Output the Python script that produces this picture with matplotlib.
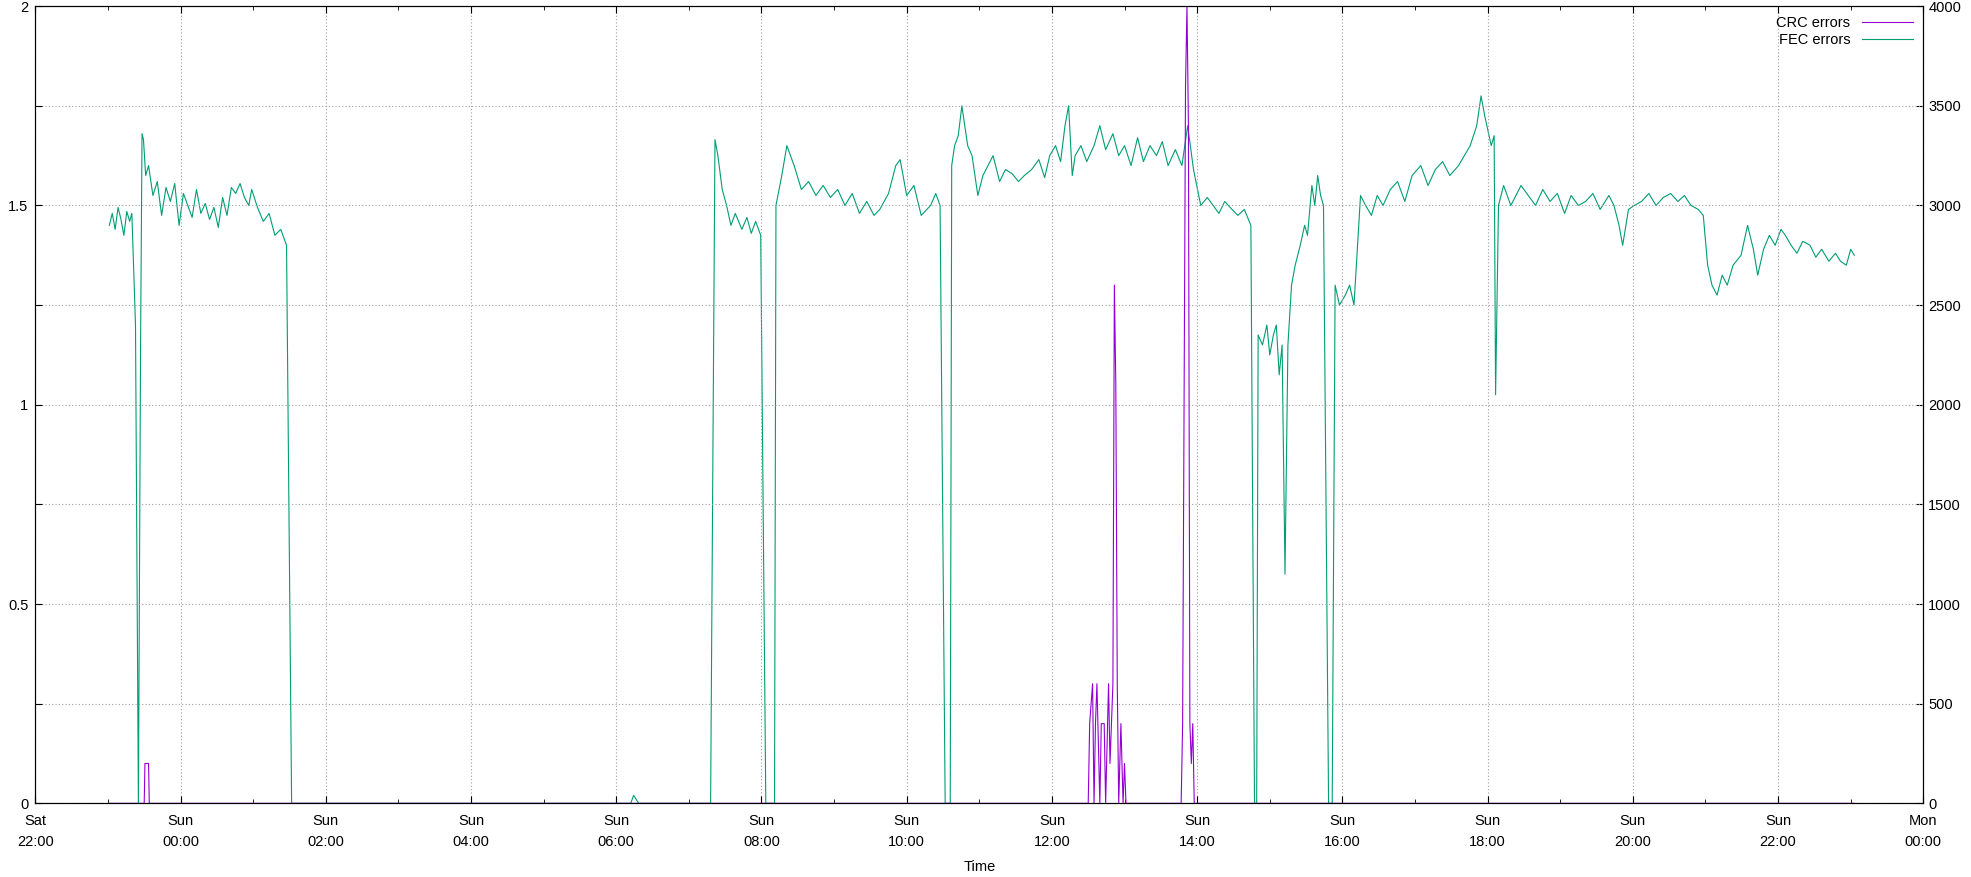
import matplotlib

matplotlib.use("Agg")
import matplotlib.pyplot as plt

# hours since Sat 22:00
fec_hours = [
    1.02, 1.06, 1.10, 1.14, 1.18, 1.22, 1.26, 1.30, 1.33, 1.38, 1.42, 1.45, 1.47, 1.49, 1.52,
    1.56, 1.62, 1.68, 1.74, 1.80, 1.86, 1.92, 1.98, 2.04, 2.10, 2.16, 2.22, 2.28, 2.34, 2.40,
    2.46, 2.52, 2.58, 2.64, 2.70, 2.76, 2.82, 2.88, 2.94, 2.98, 3.06, 3.14, 3.22, 3.30, 3.38,
    3.46, 3.53, 8.00, 8.20, 8.24, 8.31, 9.30, 9.36, 9.40, 9.46, 9.52, 9.58, 9.64, 9.73, 9.80,
    9.86, 9.92, 9.99, 10.06, 10.18, 10.20, 10.28, 10.35, 10.45, 10.55, 10.65, 10.75, 10.85,
    10.95, 11.05, 11.15, 11.25, 11.35, 11.45, 11.55, 11.63, 11.75, 11.85, 11.91, 12.00, 12.10,
    12.20, 12.33, 12.40, 12.46, 12.53, 12.60, 12.62, 12.66, 12.71, 12.76, 12.84, 12.90, 12.98,
    13.05, 13.12, 13.19, 13.28, 13.36, 13.45, 13.54, 13.62, 13.72, 13.82, 13.90, 13.97, 14.05,
    14.12, 14.18, 14.23, 14.28, 14.32, 14.40, 14.48, 14.58, 14.66, 14.74, 14.84, 14.92, 15.00,
    15.09, 15.18, 15.26, 15.35, 15.44, 15.52, 15.60, 15.70, 15.79, 15.87, 15.95, 16.05, 16.14,
    16.22, 16.30, 16.38, 16.48, 16.56, 16.65, 16.74, 16.79, 16.82, 16.84, 16.90, 16.96, 17.00,
    17.05, 17.09, 17.13, 17.17, 17.21, 17.25, 17.30, 17.35, 17.42, 17.48, 17.52, 17.58, 17.62,
    17.66, 17.70, 17.74, 17.81, 17.86, 17.90, 17.96, 18.04, 18.10, 18.16, 18.25, 18.32, 18.40,
    18.48, 18.56, 18.66, 18.76, 18.86, 18.96, 19.08, 19.18, 19.28, 19.38, 19.48, 19.60, 19.68,
    19.76, 19.85, 19.91, 19.96, 20.05, 20.09, 20.11, 20.15, 20.22, 20.32, 20.46, 20.56, 20.66,
    20.76, 20.86, 20.96, 21.06, 21.15, 21.25, 21.35, 21.45, 21.55, 21.67, 21.74, 21.81, 21.86,
    21.94, 22.02, 22.12, 22.22, 22.32, 22.42, 22.52, 22.62, 22.71, 22.80, 22.90, 22.97, 23.03,
    23.09, 23.16, 23.23, 23.30, 23.38, 23.49, 23.58, 23.66, 23.72, 23.80, 23.88, 23.96, 24.04,
    24.10, 24.18, 24.26, 24.34, 24.44, 24.52, 24.60, 24.70, 24.79, 24.86, 24.94, 25.00, 25.05,
]
fec_values = [
    2900, 2960, 2880, 2990, 2930, 2850, 2970, 2920, 2960, 2400, 0, 2300, 3360, 3330, 3150,
    3200, 3050, 3120, 2950, 3090, 3020, 3110, 2900, 3060, 3000, 2940, 3080, 2960, 3010, 2930,
    2990, 2890, 3040, 2950, 3090, 3060, 3110, 3040, 3000, 3080, 2990, 2920, 2960, 2850, 2880,
    2800, 0, 0, 0, 40, 0, 0, 3330, 3250, 3080, 3000, 2900, 2960, 2880, 2940,
    2860, 2920, 2850, 0, 0, 3000, 3150, 3300, 3200, 3080, 3120, 3050, 3100,
    3040, 3080, 3000, 3060, 2960, 3020, 2950, 2980, 3060, 3200, 3230, 3050, 3100,
    2950, 3000, 3060, 3000, 0, 0, 3200, 3300, 3350, 3500, 3300, 3250, 3050,
    3150, 3200, 3250, 3120, 3180, 3160, 3120, 3150, 3180, 3230, 3140, 3250, 3300,
    3220, 3400, 3500, 3150, 3250, 3300, 3220, 3300, 3400, 3280, 3360, 3250, 3300,
    3200, 3340, 3220, 3300, 3250, 3320, 3200, 3280, 3200, 3400, 3180, 3000, 3040,
    3000, 2960, 3020, 2980, 2950, 2980, 2900, 0, 0, 2350, 2300, 2400, 2250,
    2350, 2400, 2150, 2300, 1150, 2300, 2600, 2700, 2800, 2900, 2850, 3100, 3000,
    3150, 3050, 3000, 0, 0, 2600, 2500, 2550, 2600, 2500, 3050, 3000, 2950,
    3050, 3000, 3080, 3120, 3020, 3150, 3200, 3100, 3180, 3220, 3150, 3200, 3250,
    3300, 3400, 3550, 3450, 3300, 3350, 2050, 3000, 3100, 3000, 3100, 3050, 3000,
    3080, 3020, 3060, 2960, 3050, 3000, 3020, 3060, 2980, 3050, 3000, 2900, 2800,
    2980, 3000, 3020, 3060, 3000, 3040, 3060, 3020, 3050, 3000, 2980, 2950, 2700,
    2600, 2550, 2650, 2600, 2700, 2750, 2900, 2780, 2650, 2780, 2850, 2800, 2880,
    2850, 2800, 2760, 2820, 2800, 2740, 2780, 2720, 2760, 2720, 2700, 2780, 2750,
]

crc_hours = [1.02, 1.50, 1.51, 1.56, 1.57, 14.50, 14.52, 14.56, 14.58, 14.60, 14.62, 14.66,
             14.68, 14.72, 14.74, 14.78, 14.80, 14.84, 14.86, 14.88, 14.90, 14.92, 14.95, 14.98,
             15.00, 15.02, 15.78, 15.80, 15.84, 15.86, 15.88, 15.90, 15.92, 15.94, 15.96, 25.05]
crc_values = [0, 0, 0.1, 0.1, 0, 0, 0.2, 0.3, 0, 0.2, 0.3, 0,
              0.2, 0.2, 0, 0.3, 0.1, 0.3, 1.3, 1.05, 0.3, 0, 0.2, 0,
              0.1, 0, 0, 0.2, 1.8, 2.0, 1.7, 0.2, 0.1, 0.2, 0, 0]

tick_hours = list(range(0, 27, 2))
tick_labels = ["Sat\n22:00"] + ["Sun\n%02d:00" % ((h + 22) % 24) for h in tick_hours[1:-1]] + ["Mon\n00:00"]

plt.rcParams["font.family"] = ["Liberation Sans", "DejaVu Sans"]
plt.rcParams["font.size"] = 10.5

fig = plt.figure(figsize=(19.71, 8.77), dpi=100)
ax = fig.add_axes([0.0179, 0.084, 0.9579, 0.909])
ax2 = ax.twinx()

ax2.plot(fec_hours, fec_values, color="#009e73", lw=0.8, label="FEC errors")
ax.plot(crc_hours, crc_values, color="#9400d3", lw=0.8, label="CRC errors")
ax.set_zorder(ax2.get_zorder() + 1)
ax.patch.set_visible(False)

ax.set_xlim(0, 26)
ax.set_ylim(0, 2)
ax2.set_ylim(0, 4000)
ax.set_xticks(tick_hours)
ax.set_xticklabels(tick_labels, linespacing=1.6)
ax.set_xticks(range(0, 27), minor=True)
ax.set_yticks([i * 0.25 for i in range(9)])
ax.set_yticklabels(["0", "", "0.5", "", "1", "", "1.5", "", "2"])
ax2.set_yticks(range(0, 4001, 500))
ax.grid(True, color="#a0a0a0", linestyle=(0, (1, 2)), lw=0.8)
ax.tick_params(direction="in", length=5, top=True, pad=8)
ax.tick_params(axis="y", pad=5)
ax.tick_params(which="minor", direction="in", length=3, top=True)
ax2.tick_params(direction="in", length=5)
ax.set_xlabel("Time", labelpad=8)

h1, l1 = ax.get_legend_handles_labels()
h2, l2 = ax2.get_legend_handles_labels()
ax.legend(h1 + h2, l1 + l2, loc="upper right", frameon=False, markerfirst=False,
          handlelength=3.5, borderaxespad=0.3, labelspacing=0.2)

fig.savefig("out.png")
